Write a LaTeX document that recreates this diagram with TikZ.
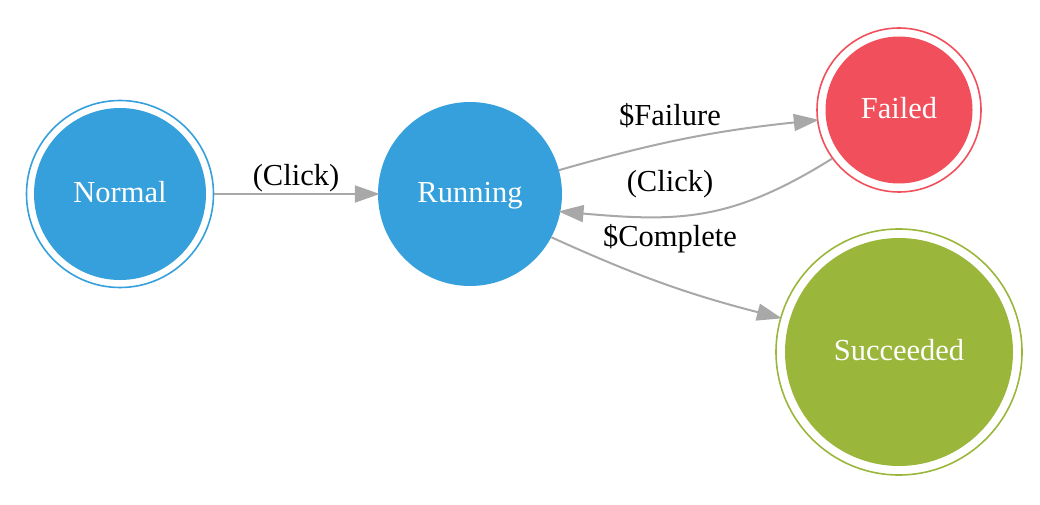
\documentclass[tikz,border=0pt]{standalone}
\usepackage{fontspec}
\setmainfont{Liberation Serif}
\newfontfamily\lserif{Liberation Serif}
\usetikzlibrary{arrows.meta}
\definecolor{cblue}{HTML}{35A0DB}
\definecolor{cred}{HTML}{F14F5B}
\definecolor{cgreen}{HTML}{9AB73B}
\definecolor{cedge}{HTML}{A8A8A8}
\begin{document}
\begin{tikzpicture}[x=1pt,y=-1pt,
  txt/.style={font=\lserif\fontsize{30.5}{36}\selectfont},
  state/.style={circle, inner sep=0pt, txt, text=white, text height=17pt, text depth=0pt},
  final/.style n args={3}{state, draw=#1, line width=1.6pt, minimum size=#2,
    path picture={\fill[#1] (path picture bounding box.center) circle[radius=#3pt];}},
  conn/.style={draw=cedge, line width=2pt, shorten >=-2pt, -{Triangle[length=25pt,width=17pt]}}
]
\useasboundingbox (0,0) rectangle (1040,505);
\node[final={cblue}{187pt}{86}] (normal) at (120,194) {Normal};
\node[state, fill=cblue, minimum size=184pt] (running) at (470,194) {Running};
\node[final={cred}{164pt}{73.5}] (failed) at (899,110) {Failed};
\node[final={cgreen}{246pt}{114}] (succ) at (899,352) {Succeeded};

\draw[conn] (normal) -- (running);
\draw[conn] (running.15) to[bend left=5] (failed.187);
\draw[conn] (failed.216) to[out=212,in=-5,looseness=1.1] (running.-11);
\draw[conn] (running.-28) to[bend right=5] (succ.164);

\node[txt] (l1) at (296,178) {(Click)};
\node[txt] (l2) at (670,116) {\$Failure};
\node[txt] (l3) at (670,184) {(Click)};
\node[txt] (l4) at (670,239) {\$Complete};
\end{tikzpicture}
\end{document}
